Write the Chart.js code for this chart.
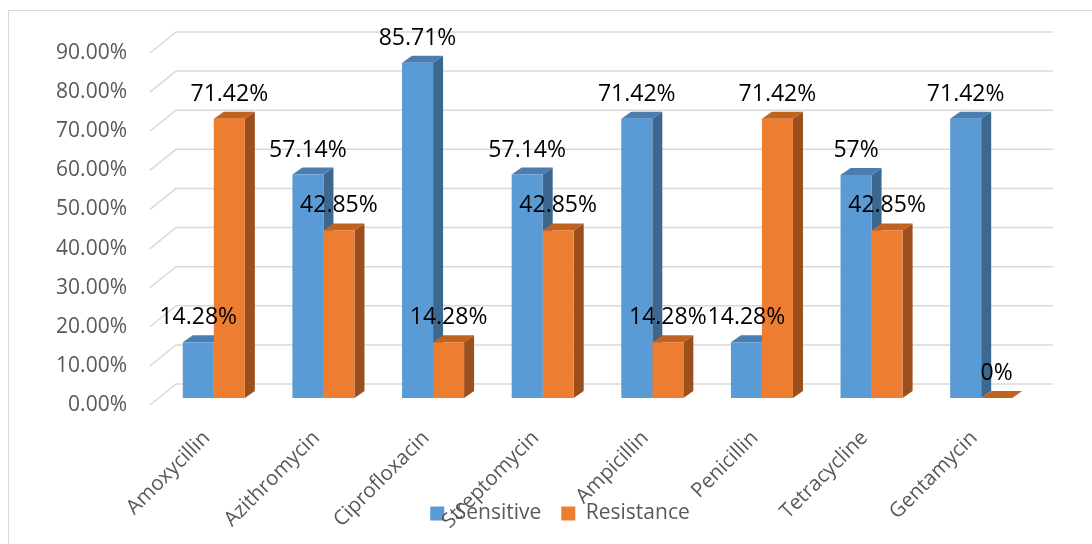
<!DOCTYPE html>
<html>
<head>
<meta charset="UTF-8">
<title>Sensitive / Resistance</title>
<script src="https://cdn.jsdelivr.net/npm/chart.js@4.4.1/dist/chart.umd.min.js"></script>
<style>
  html, body { margin: 0; padding: 0; background: #fff; }
  #frame { position: relative; width: 1092px; height: 544px; overflow: hidden; }
  #edge { position: absolute; left: 8px; top: 10px; width: 1200px; height: 700px; border: 1px solid #d9d9d9; }
  #chart { position: absolute; left: 0; top: 0; }
</style>
</head>
<body>
<div id="frame">
  <div id="edge"></div>
  <canvas id="chart" width="1092" height="544"></canvas>
</div>
<script>
const antibiotics = ['Amoxycillin', 'Azithromycin', 'Ciprofloxacin', 'Streptomycin',
  'Ampicillin', 'Penicillin', 'Tetracycline', 'Gentamycin'];
const sensitive = [14.28, 57.14, 85.71, 57.14, 71.42, 14.28, 57, 71.42];
const resistance = [71.42, 42.85, 14.28, 42.85, 14.28, 71.42, 42.85, 0];
const sensitiveText = ['14.28%', '57.14%', '85.71%', '57.14%', '71.42%', '14.28%', '57%', '71.42%'];
const resistanceText = ['71.42%', '42.85%', '14.28%', '42.85%', '14.28%', '71.42%', '42.85%', '0%'];
const yMax = 90;
const yStep = 10;

const FONT = '"Open Sans", sans-serif';
const wall = {dx: 26, dy: -21};     // back wall offset
const shift = {dx: 9, dy: -7};      // bar front plane
const depth = {dx: 10, dy: -7};     // bar thickness
const faces = [
  {top: '#4a7db0', side: '#3c6890'},
  {top: '#c2621f', side: '#9b4f1c'}
];
const valueText = [sensitiveText, resistanceText];

// fake 3d: walls + bar sides before bars, labels after
const box3d = {
  id: 'box3d',
  beforeDatasetsDraw(chart) {
    const {ctx, chartArea: a, scales: {y}} = chart;
    ctx.save();
    ctx.strokeStyle = '#d9d9d9';
    ctx.lineWidth = 1.5;
    y.ticks.forEach(t => {
      const py = y.getPixelForValue(t.value);
      ctx.beginPath();
      ctx.moveTo(a.left, py);
      ctx.lineTo(a.left + wall.dx, py + wall.dy);
      ctx.lineTo(a.right + wall.dx, py + wall.dy);
      ctx.stroke();
    });
    ctx.restore();

    ctx.save();
    ctx.translate(shift.dx, shift.dy);
    chart.data.datasets.forEach((ds, i) => {
      chart.getDatasetMeta(i).data.forEach(bar => {
        const l = bar.x - bar.width / 2, r = bar.x + bar.width / 2;
        const t = bar.y, b = bar.base;
        ctx.fillStyle = faces[i].side;
        ctx.beginPath();
        ctx.moveTo(r, t);
        ctx.lineTo(r + depth.dx, t + depth.dy);
        ctx.lineTo(r + depth.dx, b + depth.dy);
        ctx.lineTo(r, b);
        ctx.closePath();
        ctx.fill();
        ctx.fillStyle = faces[i].top;
        ctx.beginPath();
        ctx.moveTo(l, t);
        ctx.lineTo(l + depth.dx, t + depth.dy);
        ctx.lineTo(r + depth.dx, t + depth.dy);
        ctx.lineTo(r, t);
        ctx.closePath();
        ctx.fill();
      });
    });
  },
  afterDatasetsDraw(chart) {
    const ctx = chart.ctx;
    ctx.restore();
    ctx.save();
    ctx.fillStyle = '#000';
    ctx.font = '23px ' + FONT;
    ctx.textAlign = 'center';
    ctx.textBaseline = 'alphabetic';
    chart.data.datasets.forEach((ds, i) => {
      chart.getDatasetMeta(i).data.forEach((bar, j) => {
        ctx.fillText(valueText[i][j], bar.x + shift.dx, bar.y + shift.dy - 18);
      });
    });
    ctx.restore();
  }
};

// tick labels may spill outside their axis box, as in the original
const noLabelClip = scale => { scale._computeLabelArea = () => null; };

new Chart(document.getElementById('chart'), {
  type: 'bar',
  data: {
    labels: antibiotics,
    datasets: [
      {label: 'Sensitive', data: sensitive, backgroundColor: '#5b9bd5'},
      {label: 'Resistance', data: resistance, backgroundColor: '#ed7d31'}
    ]
  },
  options: {
    responsive: false,
    animation: false,
    layout: {padding: {left: 93, right: 65, top: 53, bottom: 10}},
    datasets: {bar: {categoryPercentage: 0.566, barPercentage: 1}},
    scales: {
      x: {
        grid: {display: false, drawTicks: false},
        border: {display: false},
        ticks: {
          color: '#595959', font: {family: FONT, size: 20.5},
          minRotation: 45, maxRotation: 45, padding: 21, labelOffset: 2
        },
        afterFit(scale) { scale.height = 78; noLabelClip(scale); }
      },
      y: {
        min: 0, max: yMax,
        grid: {display: false, drawTicks: false},
        border: {display: false},
        ticks: {
          stepSize: yStep, color: '#595959', padding: 23,
          font: {family: FONT, size: 21},
          callback: v => v.toFixed(2) + '%'
        },
        afterFit(scale) { scale.width = 57; noLabelClip(scale); }
      }
    },
    plugins: {
      legend: {
        position: 'bottom',
        labels: {
          color: '#595959', font: {family: FONT, size: 21},
          boxWidth: 14, boxHeight: 14, padding: 20
        }
      },
      tooltip: {enabled: false}
    }
  },
  plugins: [box3d]
});
</script>
</body>
</html>
